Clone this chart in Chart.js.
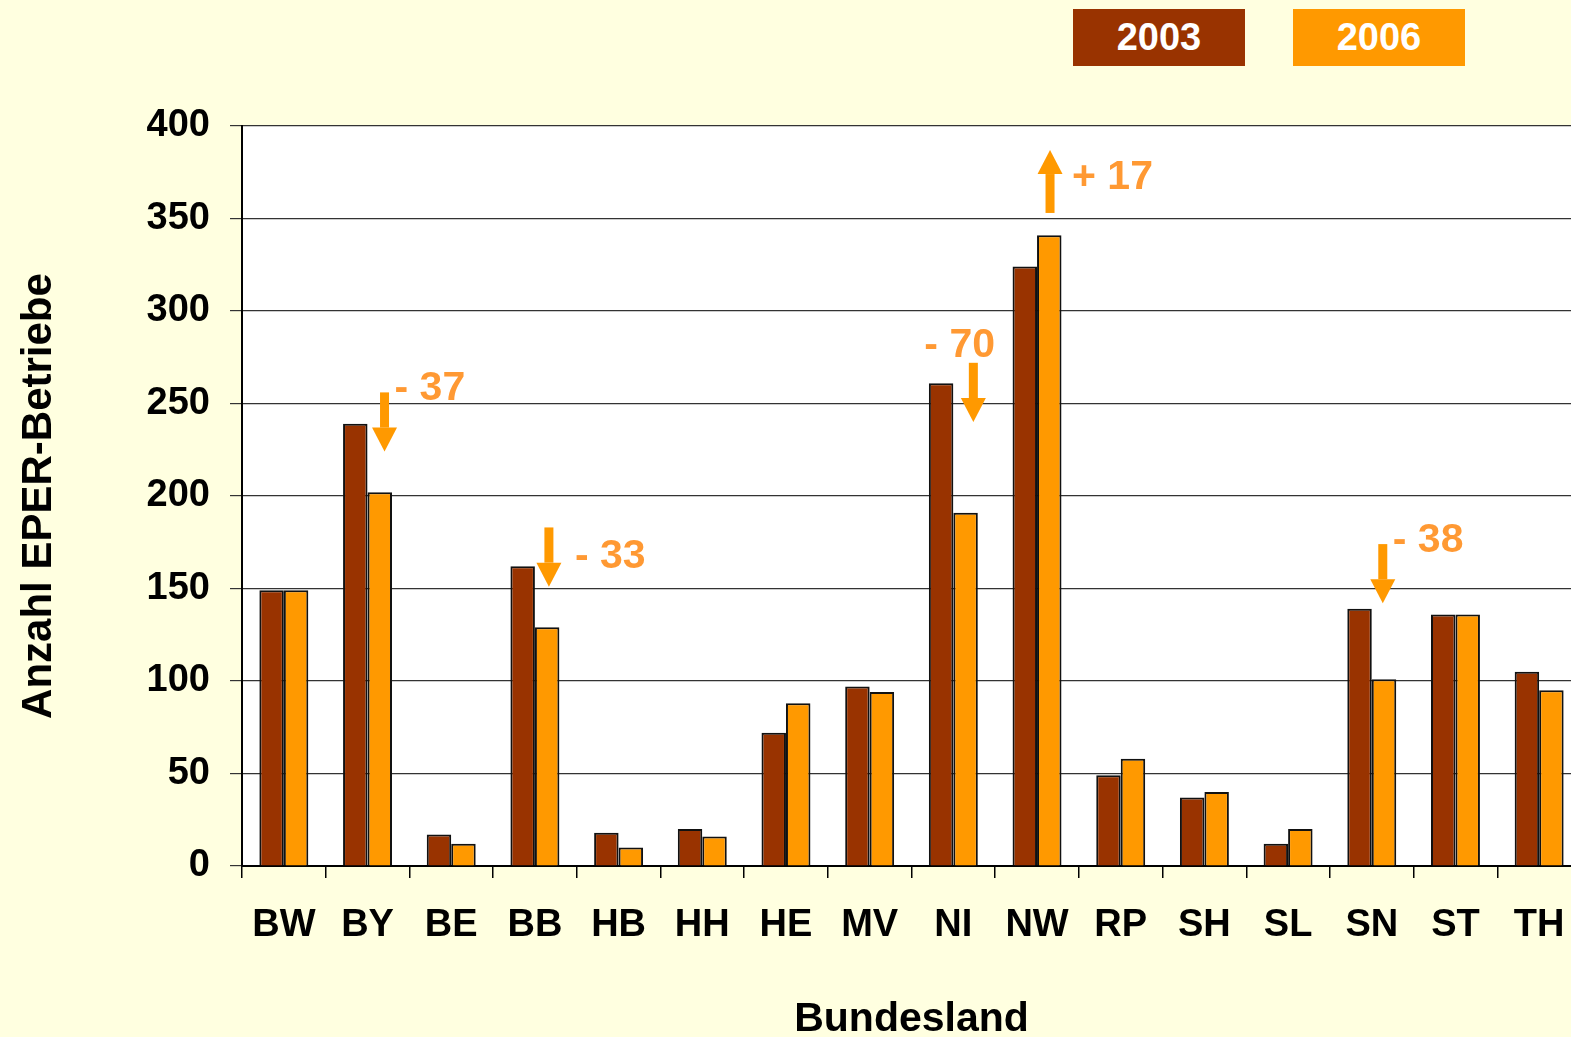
<!DOCTYPE html>
<html lang="de">
  <head>
    <meta charset="UTF-8" />
    <title>EPER-Betriebe</title>
    <script src="https://cdn.jsdelivr.net/npm/chart.js"></script>
    <style>
      html, body { margin: 0; padding: 0; overflow: hidden; background: #FFFFE0; }
      .wrap { position: relative; width: 1600px; height: 1037px; }
      .leg {
        position: absolute; top: 9px; height: 57px; width: 172px;
        color: #fff; font: bold 38px "Liberation Sans", Arial, sans-serif;
        line-height: 57px; text-align: center;
      }
    </style>
  </head>
  <body>
    <div class="wrap">
      <canvas id="myCanvas" width="1600" height="1037"></canvas>
      <div class="leg" style="left:1073px;background:#993300">2003</div>
      <div class="leg" style="left:1293px;background:#FF9900">2006</div>
    </div>

    <script>
      const laender = ["BW","BY","BE","BB","HB","HH","HE","MV","NI","NW","RP","SH","SL","SN","ST","TH"];
      const werte2003 = [149, 239, 17, 162, 18, 20, 72, 97, 261, 324, 49, 37, 12, 139, 136, 105];
      const werte2006 = [149, 202, 12, 129, 10, 16, 88, 94, 191, 341, 58, 40, 20, 101, 136, 95];
      const yTicks = [0, 50, 100, 150, 200, 250, 300, 350, 400];

      // Veraenderungen (Pfeile + Text)
      const pfeilLand = ["BY", "BB", "NI", "NW", "SN"];
      const pfeilText = ["- 37", "- 33", "- 70", "+ 17", "- 38"];
      // Lage der Pfeile: Start/Ende in Achsenwerten, dx in Pixeln zur Kategoriemitte
      const pfeilLage = [
        { dx: 17, von: 256, bis: 224, tdx: 10, ty: 258 },
        { dx: 14, von: 183, bis: 151, tdx: 26, ty: 167 },
        { dx: 20, von: 272, bis: 240, tdx: -49, ty: 281 },
        { dx: 13, von: 353, bis: 387, tdx: 22, ty: 372 },
        { dx: 11, von: 174, bis: 142, tdx: 10, ty: 176 }
      ];

      const schrift = '"Liberation Sans", Arial, sans-serif';

      const hintergrund = {
        id: "hintergrund",
        beforeDraw(chart) {
          const a = chart.chartArea, ctx = chart.ctx;
          ctx.save();
          ctx.fillStyle = "#ffffff";
          ctx.fillRect(a.left, a.top, a.right - a.left, a.bottom - a.top);
          ctx.restore();
        }
      };

      const pfeile = {
        id: "pfeile",
        afterDatasetsDraw(chart) {
          const ctx = chart.ctx, x = chart.scales.x, y = chart.scales.y;
          ctx.save();
          for (let i = 0; i < pfeilLand.length; i++) {
            const l = pfeilLage[i];
            const px = x.getPixelForValue(laender.indexOf(pfeilLand[i])) + l.dx;
            const y0 = y.getPixelForValue(l.von);
            const y1 = y.getPixelForValue(l.bis);
            const dir = y1 > y0 ? 1 : -1;
            const kopf = 24;
            ctx.fillStyle = "#FF9900";
            ctx.fillRect(px - 4.5, Math.min(y0, y1 - dir * kopf), 9, Math.abs(y1 - dir * kopf - y0));
            ctx.beginPath();
            ctx.moveTo(px - 12.5, y1 - dir * kopf);
            ctx.lineTo(px + 12.5, y1 - dir * kopf);
            ctx.lineTo(px, y1);
            ctx.closePath();
            ctx.fill();

            ctx.fillStyle = "#FF9933";
            ctx.font = "bold 41px " + schrift;
            ctx.textBaseline = "middle";
            ctx.textAlign = "left";
            ctx.fillText(pfeilText[i], px + l.tdx, y.getPixelForValue(l.ty));
          }
          ctx.restore();
        }
      };

      const ctx = document.getElementById("myCanvas").getContext("2d");
      const myChart = new Chart(ctx, {
        type: "bar",
        data: {
          labels: laender,
          datasets: [
            { label: "2003", data: werte2003, backgroundColor: "#993300", borderColor: "#111", borderWidth: 2 },
            { label: "2006", data: werte2006, backgroundColor: "#FF9900", borderColor: "#111", borderWidth: 2 }
          ]
        },
        options: {
          responsive: false,
          devicePixelRatio: 1,
          animation: false,
          layout: { padding: { top: 126, right: 19, left: 0, bottom: 0 } },
          datasets: { bar: { categoryPercentage: 0.585, barPercentage: 1 } },
          plugins: { legend: { display: false }, tooltip: { enabled: false } },
          scales: {
            x: {
              grid: { drawOnChartArea: false, drawTicks: true, tickLength: 12, color: "#000", lineWidth: 1.5 },
              border: { color: "#000", width: 2 },
              ticks: { color: "#000", padding: 25, font: { family: schrift, size: 38, weight: "bold" } },
              title: { display: true, text: "Bundesland", color: "#000", padding: 0,
                       font: { family: schrift, size: 41, weight: "bold", lineHeight: 0.85 } },
              afterFit(s) { s.height = 171; }
            },
            y: {
              min: 0,
              max: 400,
              afterBuildTicks(s) { s.ticks = yTicks.map(v => ({ value: v })); },
              grid: { color: "#333", lineWidth: 1.2, tickLength: 12 },
              border: { color: "#000", width: 2 },
              ticks: { color: "#000", padding: 20, font: { family: schrift, size: 38, weight: "bold" } },
              title: { display: true, text: "Anzahl EPER-Betriebe", color: "#000", padding: { top: 16 },
                       font: { family: schrift, size: 42, weight: "bold", lineHeight: 1.1 } },
              afterFit(s) { s.width = 242; }
            }
          }
        },
        plugins: [hintergrund, pfeile]
      });
    </script>
  </body>
</html>
